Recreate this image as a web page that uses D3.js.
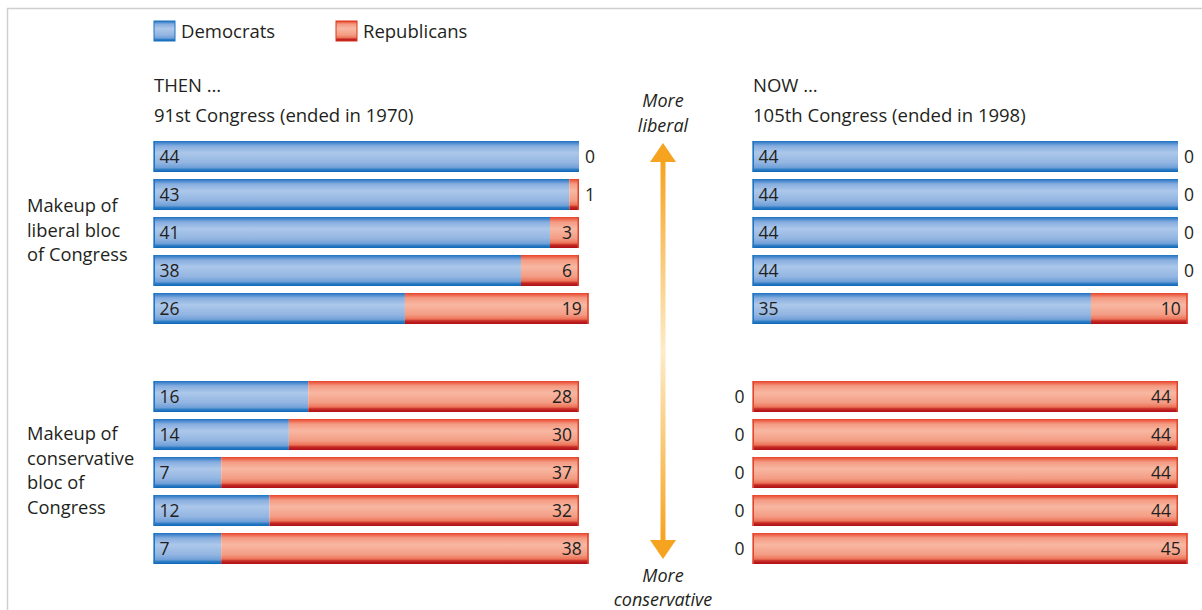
<!DOCTYPE html>
<html>
<head>
<meta charset="utf-8">
<script src="https://cdn.jsdelivr.net/npm/d3@7"></script>
<style>
  body { margin: 0; background: #fff; }
  svg { font-family: "Open Sans", "Noto Sans", sans-serif; }
  text { fill: #231f20; }
</style>
</head>
<body>
<script>
// data
var rowIndex = [0, 1, 2, 3, 4];
var thenLiberalDem = [44, 43, 41, 38, 26];
var thenLiberalRep = [0, 1, 3, 6, 19];
var thenConservDem = [16, 14, 7, 12, 7];
var thenConservRep = [28, 30, 37, 32, 38];
var nowLiberalDem = [44, 44, 44, 44, 35];
var nowLiberalRep = [0, 0, 0, 0, 10];
var nowConservDem = [0, 0, 0, 0, 0];
var nowConservRep = [44, 44, 44, 44, 45];
var legendLabels = ["Democrats", "Republicans"];

window.onload = draw();

function draw() {
    var width = 1202, height = 610;

    var svg = d3.select("body").append("svg")
        .attr("width", width)
        .attr("height", height);

    var defs = svg.append("defs");

    // bar gradients (shaded tubes)
    function tube(id, stops) {
        var g = defs.append("linearGradient").attr("id", id)
            .attr("x1", 0).attr("y1", 0).attr("x2", 0).attr("y2", 1);
        stops.forEach(function(s) {
            g.append("stop").attr("offset", s[0]).attr("stop-color", s[1]);
        });
    }
    tube("gBlue", [[0, "#1d74c0"], [0.07, "#4d8bcf"], [0.16, "#86addf"], [0.38, "#acc7ea"],
                   [0.7, "#92b5e1"], [0.86, "#6f9fd8"], [0.92, "#2f7dc6"], [1, "#0d68b5"]]);
    tube("gRed", [[0, "#e8432b"], [0.07, "#ee6a50"], [0.16, "#f49a82"], [0.38, "#f8b7a2"],
                  [0.7, "#f39c83"], [0.84, "#ec7258"], [0.9, "#c62a24"], [1, "#ad0f17"]]);
    var arrowGrad = defs.append("linearGradient").attr("id", "gArrow")
        .attr("gradientUnits", "userSpaceOnUse")
        .attr("x1", 0).attr("y1", 160).attr("x2", 0).attr("y2", 542);
    [[0, "#f6a31f"], [0.5, "#fdebc9"], [1, "#f6a31f"]].forEach(function(s) {
        arrowGrad.append("stop").attr("offset", s[0]).attr("stop-color", s[1]);
    });

    // frame lines
    svg.append("line").attr("x1", 7.5).attr("x2", 7.5).attr("y1", 8).attr("y2", height)
        .attr("stroke", "#cfcfcf").attr("stroke-width", 1.5);
    svg.append("line").attr("x1", 7).attr("x2", width).attr("y1", 8.5).attr("y2", 8.5)
        .attr("stroke", "#cfcfcf").attr("stroke-width", 1.5);

    // legend
    var legend = svg.append("g").attr("class", "legend");
    var legendX = [154, 336];
    legendLabels.forEach(function(lab, i) {
        var g = legend.append("g").attr("transform", "translate(" + legendX[i] + ",21)");
        g.append("rect").attr("width", 21).attr("height", 20)
            .attr("fill", i === 0 ? "url(#gBlue)" : "url(#gRed)")
            .attr("stroke", i === 0 ? "#1d74c0" : "#d8381f").attr("stroke-width", 1);
        g.append("text").attr("x", 27).attr("y", 17).attr("font-size", 18.5).text(lab);
    });

    // scales
    var x = d3.scaleLinear().domain([0, 44]).range([0, 425.5]);
    var yLib = d3.scaleBand().domain(rowIndex).range([137.5, 327.5])
        .paddingInner(0.184).paddingOuter(0.092);
    var yCon = d3.scaleBand().domain(rowIndex).range([377.5, 567.5])
        .paddingInner(0.184).paddingOuter(0.092);

    var panels = [
        {x0: 153.5, y: yLib, dem: thenLiberalDem, rep: thenLiberalRep},
        {x0: 153.5, y: yCon, dem: thenConservDem, rep: thenConservRep},
        {x0: 752.5, y: yLib, dem: nowLiberalDem, rep: nowLiberalRep},
        {x0: 752.5, y: yCon, dem: nowConservDem, rep: nowConservRep}
    ];

    panels.forEach(function(p) {
        var rows = rowIndex.map(function(i) {
            return {i: i, d: p.dem[i], r: p.rep[i]};
        });
        var g = svg.append("g").attr("transform", "translate(" + p.x0 + ",0)");
        var bh = p.y.bandwidth();

        var row = g.selectAll(".row").data(rows).enter().append("g")
            .attr("class", "row")
            .attr("transform", function(d) { return "translate(0," + p.y(d.i) + ")"; });

        // democrat part
        row.filter(function(d) { return d.d > 0; }).append("rect")
            .attr("x", 0).attr("width", function(d) { return x(d.d); })
            .attr("height", bh).attr("fill", "url(#gBlue)");
        row.filter(function(d) { return d.d > 0; }).append("rect")
            .attr("x", 0).attr("width", 1.5).attr("height", bh).attr("fill", "#1d74c0");

        // republican part
        row.filter(function(d) { return d.r > 0; }).append("rect")
            .attr("x", function(d) { return x(d.d); })
            .attr("width", function(d) { return x(d.r); })
            .attr("height", bh).attr("fill", "url(#gRed)");
        row.filter(function(d) { return d.r > 0; }).append("rect")
            .attr("x", function(d) { return x(d.d + d.r) - 1.5; })
            .attr("width", 1.5).attr("height", bh).attr("fill", "#e0452c");
        row.filter(function(d) { return d.d === 0; }).append("rect")
            .attr("x", 0).attr("width", 1.5).attr("height", bh).attr("fill", "#e0452c");

        // dem labels
        row.append("text")
            .attr("x", function(d) { return d.d > 0 ? 6 : -8; })
            .attr("y", bh / 2 + 6.5)
            .attr("text-anchor", function(d) { return d.d > 0 ? "start" : "end"; })
            .attr("font-size", 17.5)
            .text(function(d) { return d.d; });

        // rep labels
        row.append("text")
            .attr("x", function(d) { return d.r >= 2 ? x(d.d + d.r) - 7 : x(d.d + d.r) + 6; })
            .attr("y", bh / 2 + 6.5)
            .attr("text-anchor", function(d) { return d.r >= 2 ? "end" : "start"; })
            .attr("font-size", 17.5)
            .text(function(d) { return d.r; });
    });

    // headers
    var heads = [
        {x: 154, lines: ["THEN \u2026", "91st Congress (ended in 1970)"]},
        {x: 753, lines: ["NOW \u2026", "105th Congress (ended in 1998)"]}
    ];
    heads.forEach(function(h) {
        h.lines.forEach(function(l, j) {
            svg.append("text").attr("x", h.x).attr("y", 92 + j * 30)
                .attr("font-size", 18.5).text(l);
        });
    });

    // side labels
    var side = [
        {y: 212, lines: ["Makeup of", "liberal bloc", "of Congress"]},
        {y: 440, lines: ["Makeup of", "conservative", "bloc of", "Congress"]}
    ];
    side.forEach(function(s) {
        s.lines.forEach(function(l, j) {
            svg.append("text").attr("x", 27).attr("y", s.y + j * 24.5)
                .attr("font-size", 18.3).text(l);
        });
    });

    // central arrow
    var ax = 663;
    svg.append("rect").attr("x", ax - 2.5).attr("y", 158).attr("width", 5).attr("height", 386)
        .attr("fill", "url(#gArrow)");
    svg.append("path").attr("d", "M" + ax + ",143 L" + (ax + 13) + ",162 L" + (ax - 13) + ",162 Z")
        .attr("fill", "#f6a31f");
    svg.append("path").attr("d", "M" + ax + ",559 L" + (ax + 13) + ",540 L" + (ax - 13) + ",540 Z")
        .attr("fill", "#f6a31f");

    var arrowText = [
        {y: 107, t: "More"}, {y: 132, t: "liberal"},
        {y: 582, t: "More"}, {y: 606, t: "conservative"}
    ];
    svg.selectAll(".atext").data(arrowText).enter().append("text")
        .attr("class", "atext")
        .attr("x", ax).attr("y", function(d) { return d.y; })
        .attr("text-anchor", "middle").attr("font-size", 18)
        .attr("font-style", "italic")
        .text(function(d) { return d.t; });
}
</script>
</body>
</html>
